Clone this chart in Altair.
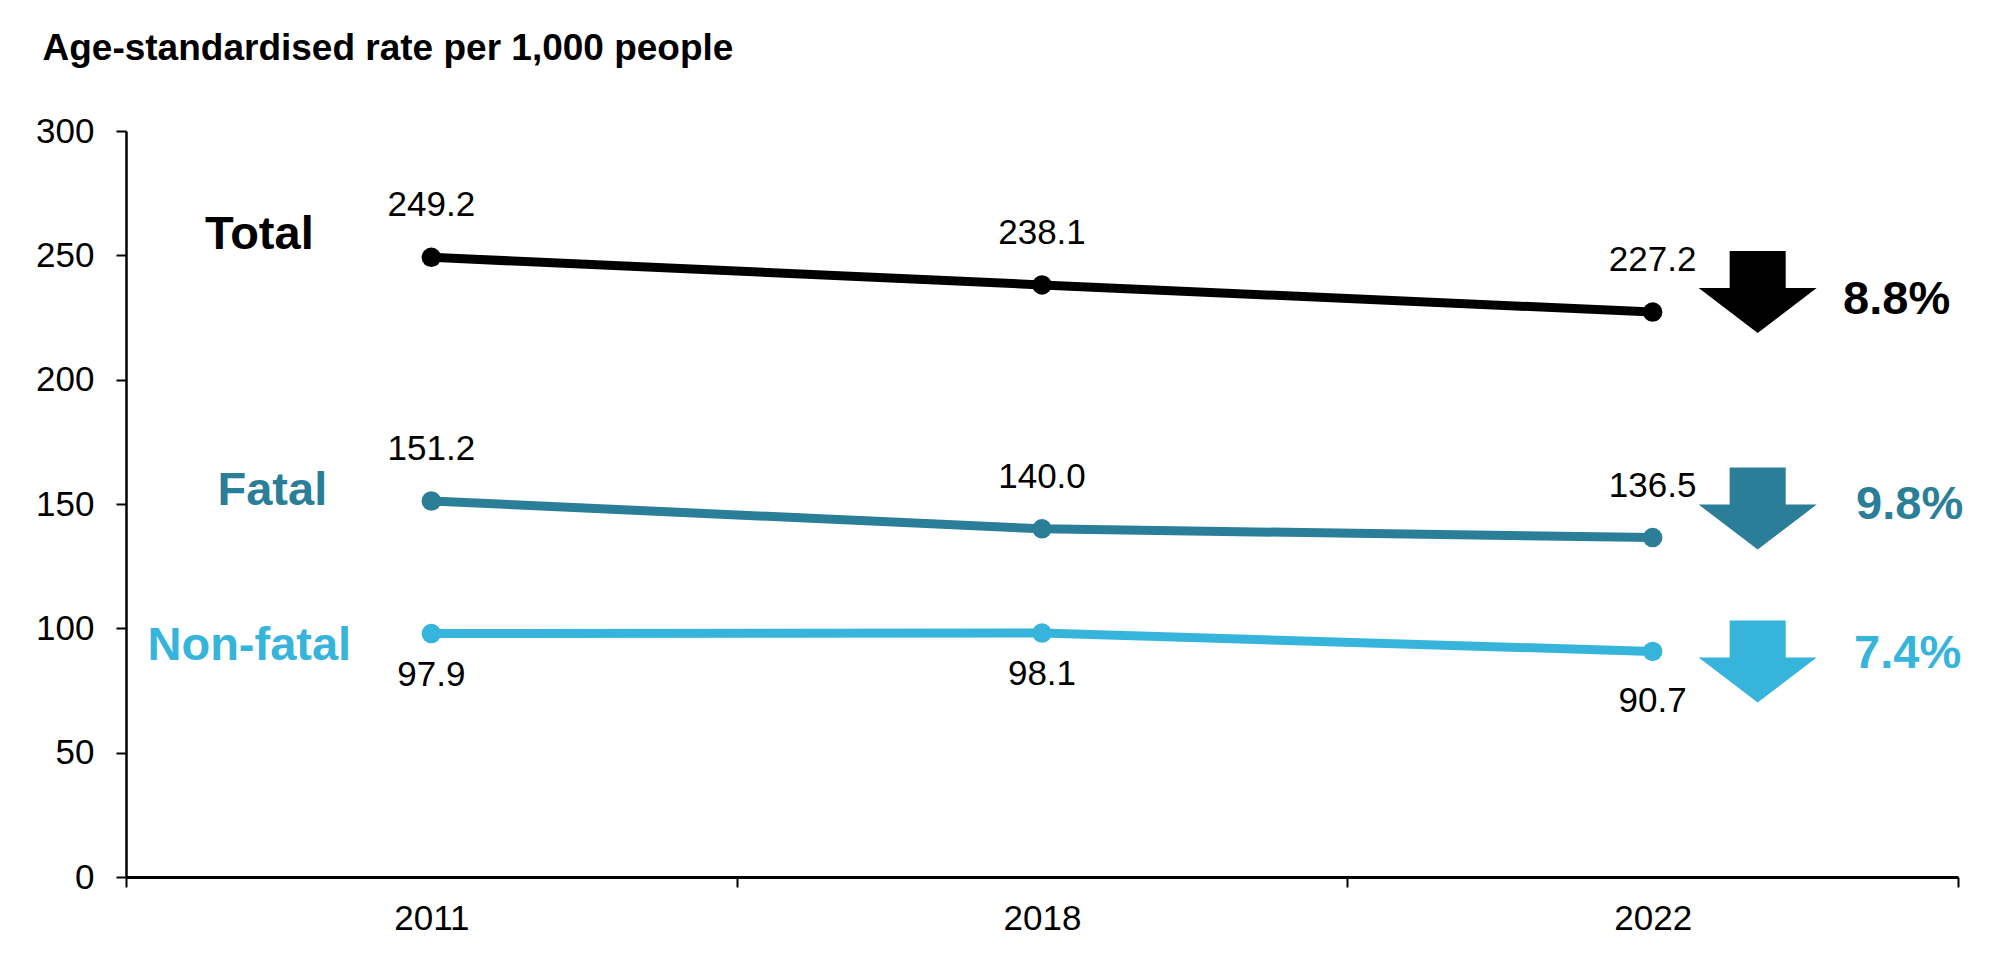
import altair as alt
import pandas as pd

years = ["2011", "2018", "2022"]
series = ["Total", "Fatal", "Non-fatal"]
total = [249.2, 238.1, 227.2]
fatal = [151.2, 140.0, 136.5]
nonfatal = [97.9, 98.1, 90.7]
changes = ["8.8%", "9.8%", "7.4%"]
colors = ["#000000", "#2A7E98", "#36B4DC"]

rows = []
for s, vals, ch in zip(series, [total, fatal, nonfatal], changes):
    for yr, v in zip(years, vals):
        rows.append({"year": yr, "series": s, "value": v, "label": f"{v:.1f}", "change": ch})
df = pd.DataFrame(rows)

FONT = "Liberation Sans, Arial, sans-serif"

# styling offsets (pixels) per series for annotations
name_style = {"Total": (-172, -22), "Fatal": (-159, -10), "Non-fatal": (-182, 12)}
arrow_style = {"Total": -20, "Fatal": -29, "Non-fatal": 10}
pct_style = {"Total": (244, -12), "Fatal": (257, -33), "Non-fatal": (255, 3)}
ARROW = "M -0.475 -0.695 L 0.475 -0.695 L 0.475 -0.068 L 1 -0.068 L 0 0.695 L -1 -0.068 L -0.475 -0.068 Z"

x = alt.X(
    "year:N", sort=years,
    scale=alt.Scale(type="band", domain=years, paddingInner=0, paddingOuter=0),
    axis=alt.Axis(title=None, tickBand="extent", labelAngle=0, labelFontSize=35, labelFont=FONT,
                  labelColor="black", tickColor="black", tickSize=10, tickWidth=2,
                  domainColor="black", domainWidth=3, labelPadding=14, grid=False),
)
y = alt.Y(
    "value:Q",
    scale=alt.Scale(domain=[0, 300], nice=False),
    axis=alt.Axis(values=[0, 50, 100, 150, 200, 250, 300], title="Age-standardised rate per 1,000 people",
                  titleAngle=0, titleAlign="left", titleBaseline="alphabetic", titleX=-84, titleY=-72,
                  titleFontSize=37, titleFont=FONT, titleFontWeight="bold", titleColor="black",
                  grid=False, labelFontSize=35, labelFont=FONT, labelColor="black", tickSize=10,
                  tickWidth=2, tickColor="black", domainColor="black", domainWidth=2.5, labelPadding=22),
)
color = alt.Color("series:N", scale=alt.Scale(domain=series, range=colors), legend=None)

base = alt.Chart(df)

line = base.mark_line(strokeWidth=9).encode(x=x, y=y, color=color)
points = base.mark_circle(size=380, opacity=1).encode(x=x, y=y, color=color)
above = base.transform_filter(alt.datum.series != "Non-fatal").mark_text(
    dy=-41, baseline="alphabetic", fontSize=35, font=FONT, color="black"
).encode(x=x, y=y, text="label:N")
below_a = base.transform_filter(
    (alt.datum.series == "Non-fatal") & (alt.datum.year != years[-1])
).mark_text(
    dy=52, baseline="alphabetic", fontSize=35, font=FONT, color="black"
).encode(x=x, y=y, text="label:N")
below_b = base.transform_filter(
    (alt.datum.series == "Non-fatal") & (alt.datum.year == years[-1])
).mark_text(
    dy=61, baseline="alphabetic", fontSize=35, font=FONT, color="black"
).encode(x=x, y=y, text="label:N")

layers = [line, points, above, below_a, below_b]
for s in series:
    dx, dy = name_style[s]
    layers.append(
        base.transform_filter((alt.datum.series == s) & (alt.datum.year == years[0])).mark_text(
            dx=dx, dy=dy, baseline="middle", fontSize=47, fontWeight="bold", font=FONT
        ).encode(x=x, y=y, text="series:N", color=color)
    )
    layers.append(
        base.transform_filter((alt.datum.series == s) & (alt.datum.year == years[-1])).mark_point(
            shape=ARROW, filled=True, size=13924, opacity=1, strokeWidth=0,
            xOffset=105, yOffset=arrow_style[s]
        ).encode(x=x, y=y, color=color)
    )
    pdx, pdy = pct_style[s]
    layers.append(
        base.transform_filter((alt.datum.series == s) & (alt.datum.year == years[-1])).mark_text(
            dx=pdx, dy=pdy, baseline="middle", fontSize=47, fontWeight="bold", font=FONT
        ).encode(x=x, y=y, text="change:N", color=color)
    )

chart = alt.layer(*layers).properties(
    width=1832, height=746,
    background="white",
    autosize=alt.AutoSizeParams(type="none"),
    padding={"left": 126, "top": 131, "right": 53, "bottom": 96},
).configure_view(stroke=None)

chart.save("out.html", embed_options={"renderer": "svg", "actions": False})
